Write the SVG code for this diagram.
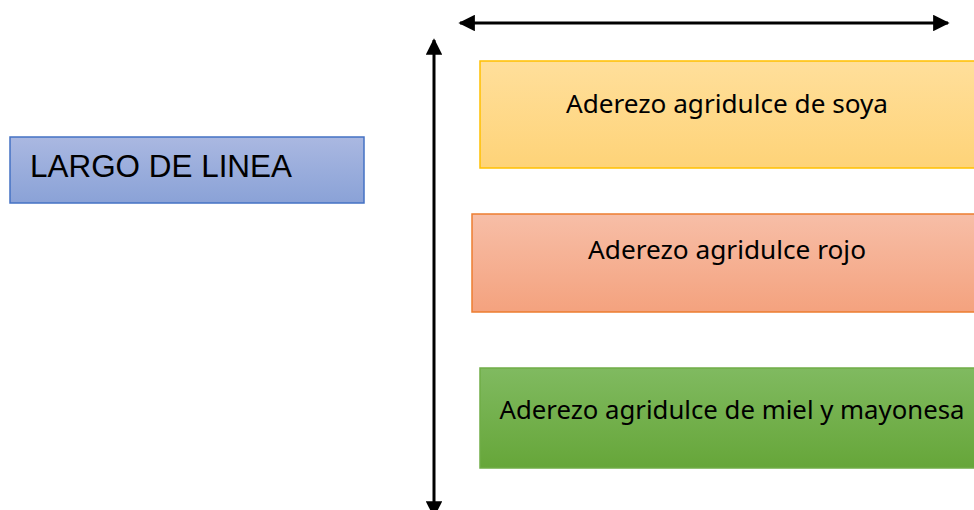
<svg xmlns="http://www.w3.org/2000/svg" width="974" height="510" viewBox="0 0 974 510">
<style>
.lbl{font-family:"Noto Sans","Open Sans",sans-serif;font-size:26px;fill:#000;text-anchor:middle}
.big{font-family:"Liberation Sans",Arial,sans-serif;font-size:31px;fill:#000}
.conn{stroke:#000;stroke-width:3;fill:none}
</style>
<defs>
<linearGradient id="gY" x1="0" y1="0" x2="0" y2="1"><stop offset="0" stop-color="#ffdf9b"/><stop offset="1" stop-color="#fed378"/></linearGradient>
<linearGradient id="gR" x1="0" y1="0" x2="0" y2="1"><stop offset="0" stop-color="#f7bea7"/><stop offset="1" stop-color="#f4a27e"/></linearGradient>
<linearGradient id="gG" x1="0" y1="0" x2="0" y2="1"><stop offset="0" stop-color="#80ba60"/><stop offset="1" stop-color="#66a639"/></linearGradient>
<linearGradient id="gB" x1="0" y1="0" x2="0" y2="1"><stop offset="0" stop-color="#aab8e1"/><stop offset="1" stop-color="#8aa2d7"/></linearGradient>
<marker id="ah" viewBox="0 0 10 10" refX="9" refY="5" markerWidth="5.5" markerHeight="5.5" orient="auto-start-reverse" markerUnits="strokeWidth"><path d="M0,0 L10,5 L0,10 z" fill="#000"/></marker>
</defs>
<g id="connectors">
<line class="conn" x1="460" y1="23" x2="948" y2="23" marker-start="url(#ah)" marker-end="url(#ah)"/>
<line class="conn" x1="434" y1="40" x2="434" y2="516" marker-start="url(#ah)" marker-end="url(#ah)"/>
</g>
<g id="largo">
<rect x="10" y="137" width="354" height="66" fill="url(#gB)" stroke="#4472c4" stroke-width="1.5"/>
<text class="big" x="30" y="177" textLength="262" lengthAdjust="spacingAndGlyphs">LARGO DE LINEA</text>
</g>
<g id="soya">
<rect x="480" y="61" width="500" height="107" fill="url(#gY)" stroke="#ffc000" stroke-width="1.5"/>
<text class="lbl" x="727" y="113" textLength="322" lengthAdjust="spacingAndGlyphs">Aderezo agridulce de soya</text>
</g>
<g id="rojo">
<rect x="472" y="214" width="508" height="98" fill="url(#gR)" stroke="#ed7d31" stroke-width="1.5"/>
<text class="lbl" x="727" y="259" textLength="278" lengthAdjust="spacingAndGlyphs">Aderezo agridulce rojo</text>
</g>
<g id="miel">
<rect x="480" y="368" width="500" height="100" fill="url(#gG)" stroke="#70ad47" stroke-width="1.5"/>
<text class="lbl" x="732" y="419" textLength="465" lengthAdjust="spacingAndGlyphs">Aderezo agridulce de miel y mayonesa</text>
</g>
</svg>
